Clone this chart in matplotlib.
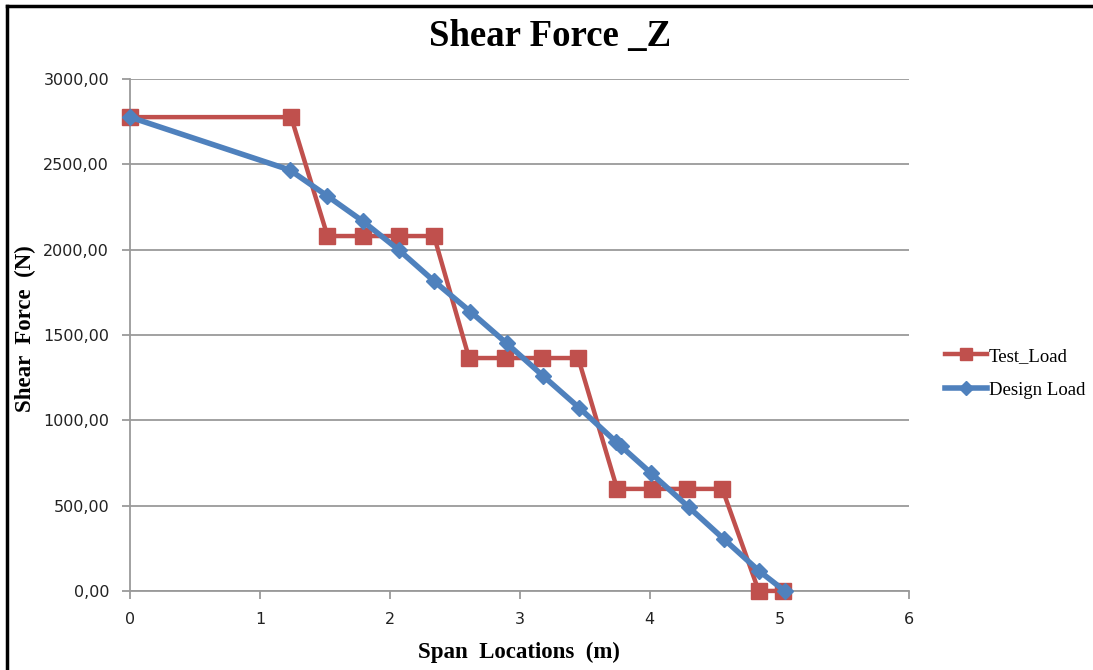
import matplotlib
matplotlib.use('Agg')
import matplotlib.pyplot as plt
from matplotlib.lines import Line2D

# span locations (m) and shear force (N)
test_x = [0, 1.24, 1.52, 1.79, 2.07, 2.34, 2.61, 2.89, 3.17, 3.45, 3.75, 4.02, 4.29, 4.56, 4.84, 5.03]
test_y = [2777, 2777, 2080, 2080, 2080, 2080, 1365, 1365, 1365, 1365, 598, 598, 598, 598, 0, 0]

design_x = [0, 1.23, 1.52, 1.79, 2.07, 2.34, 2.62, 2.90, 3.18, 3.46, 3.74, 3.78, 4.01, 4.30, 4.57, 4.84, 5.04]
design_y = [2777, 2467, 2314, 2168, 1998, 1816, 1637, 1451, 1260, 1072, 875, 848, 691, 492, 305, 119, 0]

yticks = [0, 500, 1000, 1500, 2000, 2500, 3000]
ytick_labels = ['0,00', '500,00', '1000,00', '1500,00', '2000,00', '2500,00', '3000,00']
xticks = [0, 1, 2, 3, 4, 5, 6]

serif = ['Liberation Serif', 'DejaVu Serif']

fig = plt.figure(figsize=(10.93, 6.70), dpi=100)
ax = fig.add_axes([0.119, 0.118, 0.713, 0.764])

ax.plot(test_x, test_y, color='#C0504D', lw=3.2, marker='s', ms=11, label='Test_Load',
        zorder=3, clip_on=False)
ax.plot(design_x, design_y, color='#4F81BD', lw=4, marker='D', ms=8, label='Design Load',
        zorder=4, clip_on=False)

ax.set_xlim(0, 6)
ax.set_ylim(0, 3000)
ax.set_xticks(xticks)
ax.set_yticks(yticks)
ax.set_yticklabels(ytick_labels)
ax.grid(axis='y', color='#9a9a9a', lw=1.3)
ax.set_axisbelow(True)
for s in ['top', 'right']:
    ax.spines[s].set_visible(False)
for s in ['left', 'bottom']:
    ax.spines[s].set_color('#9a9a9a')
    ax.spines[s].set_linewidth(1.3)
ax.tick_params(colors='#9a9a9a', width=1.3, length=6, labelcolor='#222222', labelsize=11.5, pad=9)
for lab in ax.get_xticklabels() + ax.get_yticklabels():
    lab.set_family(['DejaVu Sans'])

fig.text(0.503, 0.946, 'Shear Force _Z', ha='center', va='center', fontsize=26.5,
         fontweight='bold', family=serif)
fig.text(0.475, 0.027, 'Span  Locations  (m)', ha='center', va='center', fontsize=16.5,
         fontweight='bold', family=serif)
fig.text(0.023, 0.51, 'Shear  Force  (N)', ha='center', va='center', rotation=90, fontsize=16.5,
         fontweight='bold', family=serif)

fig.legend(loc='center left', bbox_to_anchor=(0.853, 0.443), frameon=False,
           prop={'family': serif, 'size': 13.5}, handlelength=2.2, handletextpad=0.1,
           labelspacing=0.9, markerscale=0.85, borderpad=0.2)

# black frame along the left and top of the chart area
fig.add_artist(Line2D([7 / 1093, 7 / 1093], [0, 1 - 6 / 670], transform=fig.transFigure,
                      color='black', lw=2.5))
fig.add_artist(Line2D([7 / 1093, 1], [1 - 6 / 670, 1 - 6 / 670], transform=fig.transFigure,
                      color='black', lw=2.5))

fig.savefig('out.png', dpi=100)
